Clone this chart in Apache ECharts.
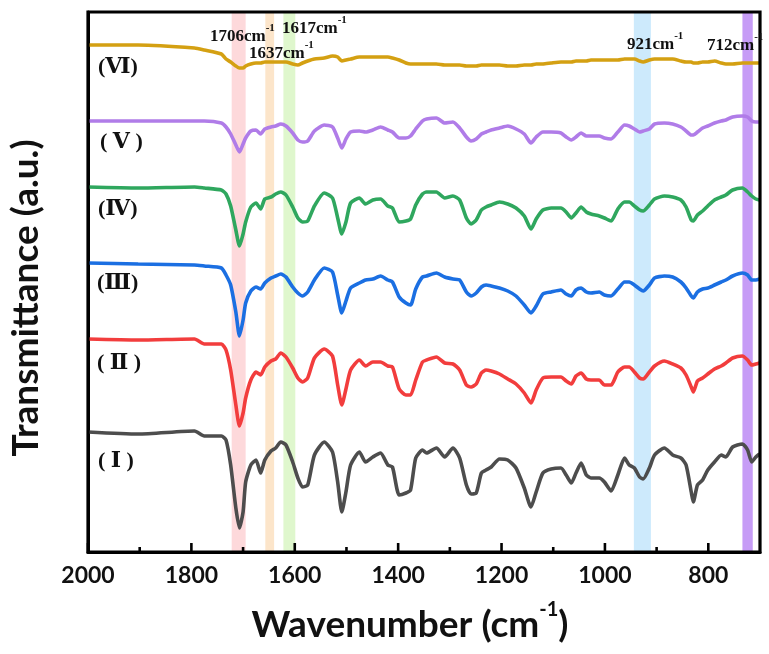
<!DOCTYPE html>
<html><head><meta charset="utf-8">
<script src="https://cdn.jsdelivr.net/npm/echarts@6/dist/echarts.min.js"></script>
<style>html,body{margin:0;padding:0;background:#fff}#c{width:769px;height:654px}</style>
</head><body><div id="c"></div>
<script>
// shared wavenumber grid (cm-1)
const wavenumbers = [2000,1903,1794,1775,1742,1733,1724,1714,1707,1700,1695,1685,1675,1666,1658,1646,1637,1627,1617,1604,
1594,1585,1575,1562,1543,1527,1517,1509,1501,1492,1475,1463,1449,1434,1420,1411,1398,1385,1376,1366,
1353,1345,1326,1310,1294,1281,1268,1259,1249,1239,1230,1220,1204,1188,1172,1156,1143,1133,1120,1104,
1085,1075,1065,1056,1046,1036,1027,1011,1001,988,975,962,953,943,933,926,914,904,885,869,
853,843,833,829,821,811,801,788,775,766,753,734,724,716,708,701];
// transmittance (a.u., offset) per sample
const curveI = [120,118,121,116,116,112,87,44,24,40,70,87,92,79,92,101,104,110,107,90,
74,65,67,97,110,100,70,40,60,87,100,90,95,99,87,85,57,59,62,94,
102,99,104,95,104,94,67,58,59,79,82,85,93,92,84,64,45,60,79,83,
84,77,69,79,89,77,74,74,70,61,77,94,87,84,75,73,84,97,104,97,
94,87,60,50,67,72,82,90,97,95,105,108,102,90,95,98];
const curveII = [213,212,213,208,208,202,182,147,126,139,154,172,180,177,185,191,193,199,195,184,
174,170,174,194,203,196,167,147,163,182,192,186,190,190,186,185,163,157,157,172,
190,192,195,189,188,182,167,165,168,179,182,181,178,173,168,159,149,162,174,175,
175,171,168,176,179,173,172,172,167,167,180,185,185,180,174,173,180,186,191,188,
184,177,165,160,171,174,178,183,186,189,194,196,192,187,188,189];
const curveIII = [289,288,287,286,284,277,267,240,216,232,249,261,265,263,269,274,276,278,275,265,
259,256,260,272,284,280,257,239,251,264,269,272,273,276,272,270,255,249,247,263,
275,276,279,275,273,272,260,256,259,265,267,266,264,261,256,247,239,246,258,260,
262,258,256,262,264,260,259,260,257,256,263,270,270,267,263,261,267,274,276,275,
270,264,256,254,260,263,264,267,270,272,276,279,277,272,272,273];
const curveIV = [365,364,365,364,362,358,346,322,306,318,330,345,349,343,353,355,358,360,357,345,
334,330,331,346,359,354,334,318,330,349,354,348,352,353,346,344,330,331,333,347,
358,360,360,354,356,352,334,328,332,342,345,347,350,348,344,336,323,333,342,344,
344,340,334,339,345,340,338,336,334,331,343,350,350,346,342,341,347,353,356,355,
352,345,332,331,337,341,346,352,355,357,362,364,360,356,353,352];
const curveV = [431,431,431,431,429,425,418,407,400,408,414,421,422,418,423,425,426,428,426,419,
412,410,411,421,427,425,414,404,413,420,421,420,422,425,422,420,414,414,416,423,
431,433,434,429,430,424,415,411,413,418,420,422,424,426,423,418,409,415,420,420,
419,415,412,415,419,416,416,416,414,413,420,427,426,423,420,421,423,428,429,428,
425,421,417,417,420,424,426,429,431,432,435,436,435,431,430,430];
const curveVI = [507,507,504,502,498,493,490,486,484,484,486,488,489,489,490,490,490,490,490,488,
487,489,491,493,494,496,495,491,492,493,495,495,495,495,495,494,492,489,488,488,
488,488,488,487,487,487,486,486,486,487,487,487,487,486,486,487,487,488,488,489,
490,490,490,491,491,491,492,492,492,492,492,493,493,493,491,490,492,493,493,493,
491,490,490,489,489,490,490,491,489,488,488,489,489,489,489,489];

const curveLabels = ['( \u2160 )','( \u2161 )','(\u2162)','(\u2163)','( \u2164 )','(\u2165)'];
const curveColors = ['#4d4d4d','#f23d3d','#1b6fe2','#2fa75e','#b07ce8','#d4a012'];
const bandLow  = [1695,1640,1599,911,714];
const bandHigh = [1722,1657,1622,944,734];
const bandNames = ['1706','1637','1617','921','712'];
const bandColors = ['rgba(248,120,125,0.28)','rgba(245,170,80,0.3)','rgba(150,230,90,0.3)','rgba(100,190,245,0.32)','rgba(160,90,240,0.6)'];
const majorTicks = [800,1000,1200,1400,1600,1800,2000];
const minorTicks = [900,1100,1300,1500,1700,1900];
const xMin = 700, xMax = 2000, yMin = 0, yMax = 540;

const chart = echarts.init(document.getElementById('c'), null, {renderer:'canvas'});
const curves = [curveI, curveII, curveIII, curveIV, curveV, curveVI];
const series = curves.map((vals,k)=>({
  type:'line', name: curveLabels[k],
  data: wavenumbers.map((w,i)=>[w, vals[i]]),
  showSymbol:false, smooth:0.2, z:2,
  lineStyle:{color:curveColors[k], width:3.6}
}));
series.push({
  type:'line', data:[], z:5, silent:true,
  markArea:{silent:true, label:{show:false},
    data: bandLow.map((lo,i)=>[{xAxis:lo, itemStyle:{color:bandColors[i]}},{xAxis:bandHigh[i]}])}
});
chart.setOption({
  animation:false, backgroundColor:'#fff',
  grid:{left:88, right:9, top:12, bottom:102, show:false},
  xAxis:{type:'value', min:xMin, max:xMax, interval:100, inverse:true,
    axisLine:{show:true, lineStyle:{color:'#000', width:3}}, axisTick:{show:false},
    axisLabel:{show:true, margin:12, color:'#111', fontFamily:'Lato', fontWeight:'bold', fontSize:23,
      formatter:v=> (v % 200 === 0 ? String(v) : '')},
    splitLine:{show:false}},
  yAxis:{type:'value', min:yMin, max:yMax,
    axisLine:{show:true, lineStyle:{color:'#000', width:3}},
    axisTick:{show:false}, axisLabel:{show:false}, splitLine:{show:false}},
  series: series
});

// frame and inward ticks placed through the axis scales
const px = v => chart.convertToPixel({xAxisIndex:0}, v);
const py = v => chart.convertToPixel({yAxisIndex:0}, v);
const L = px(xMax), R = px(xMin), T = py(yMax), B = py(yMin);
const graphics = [];
graphics.push({type:'rect', z:50, silent:true, shape:{x:L, y:T, width:R-L, height:B-T},
  style:{fill:'none', stroke:'#000', lineWidth:3.2}});
majorTicks.forEach(v=>{ const x = px(v);
  graphics.push({type:'line', z:50, silent:true, shape:{x1:x, y1:B, x2:x, y2:B-9}, style:{stroke:'#000', lineWidth:2.6}}); });
minorTicks.forEach(v=>{ const x = px(v);
  graphics.push({type:'line', z:50, silent:true, shape:{x1:x, y1:B, x2:x, y2:B-5}, style:{stroke:'#000', lineWidth:2.6}}); });

const supRich = {
  b:{fontFamily:'Liberation Serif', fontWeight:'bold', fontSize:17, lineHeight:22, verticalAlign:'bottom', fill:'#111'},
  s:{fontFamily:'Liberation Serif', fontWeight:'bold', fontSize:11, lineHeight:22, verticalAlign:'top', fill:'#111'}
};
const bandLabelPos = [[210,34],[249,51],[282,26],[627,42],[707,43]];
const curveLabelPos = [[98,461],[97,363],[97,283],[98,209],[100,142],[98,67]];
bandNames.forEach((n,i)=>{
  graphics.push({type:'text', x:bandLabelPos[i][0], y:bandLabelPos[i][1], z:100,
    style:{text:'{b|'+n+'cm}{s|-1}', rich:supRich, verticalAlign:'middle', align:'left'}});
});
curveLabels.forEach((t,i)=>{
  graphics.push({type:'text', x:curveLabelPos[i][0], y:curveLabelPos[i][1], z:100,
    style:{text:t, fontFamily:'Liberation Serif, DejaVu Serif, serif', fontWeight:'bold', fontSize:22, fill:'#111', verticalAlign:'middle', align:'left'}});
});
graphics.push({type:'text', x:410, y:622, z:100,
  style:{text:'{b|Wavenumber (cm}{s|-1}{b|)}', align:'center', verticalAlign:'middle',
    rich:{b:{fontFamily:'Lato', fontWeight:'bold', fontSize:37, lineHeight:44, verticalAlign:'bottom', fill:'#111'},
          s:{fontFamily:'Lato', fontWeight:'bold', fontSize:20, lineHeight:30, verticalAlign:'top', fill:'#111'}}}});
graphics.push({type:'text', x:26, y:298, rotation:Math.PI/2, z:100,
  style:{text:'Transmittance (a.u.)', align:'center', verticalAlign:'middle',
    fontFamily:'Lato', fontWeight:'bold', fontSize:37, fill:'#111'}});
chart.setOption({graphic: graphics});
</script>
</body></html>
